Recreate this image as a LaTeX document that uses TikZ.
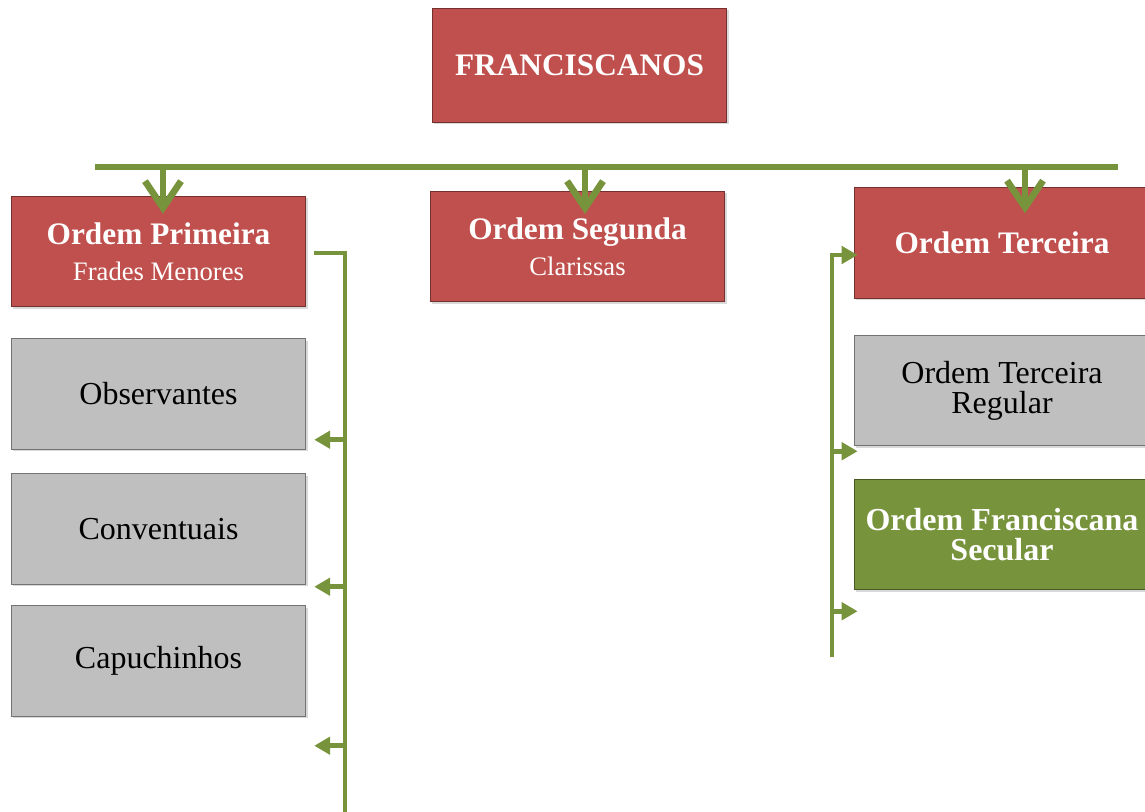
\documentclass[tikz,border=0pt]{standalone}
\usepackage{fontspec}
\setmainfont{Liberation Serif}
\usetikzlibrary{%
  calc,
  positioning,
  shadows,
  arrows.meta,
}
\definecolor{boxred}{HTML}{C0504D}
\definecolor{boxgray}{HTML}{BFBFBF}
\definecolor{boxgreen}{HTML}{77933C}
\definecolor{linegreen}{HTML}{77933C}

\begin{document}
\begin{tikzpicture}[x=0.75pt, y=-0.75pt,
    box/.style={draw=#1!60!black, fill=#1, line width=0.6pt,
      minimum width=221pt, minimum height=83pt,
      inner sep=0pt, align=center,
      drop shadow={shadow xshift=1.5pt, shadow yshift=-1.5pt, opacity=0.3}},
    redbox/.style={box=boxred, text=white,
      font=\fontsize{23.5}{27}\selectfont\bfseries},
    graybox/.style={box=boxgray, text=black,
      font=\fontsize{24}{22.5}\selectfont},
    greenbox/.style={box=boxgreen, text=white,
      font=\fontsize{24}{22.5}\selectfont\bfseries},
    bar/.style={linegreen, line width=5pt},
    down/.style={bar, -{Straight Barb[length=20pt, width=27pt]}},
    bracket/.style={linegreen, line width=3.5pt},
    side/.style={bracket, -{Triangle[length=12pt, width=13pt]}},
  ]
        \useasboundingbox (0,0) rectangle (1145,812);

        % boxes, pixel coordinates
        \node[redbox, minimum height=85.5pt] (fran) at (579.5,65) {FRANCISCANOS};

        \node[redbox] (prim) at (158.5,251.5)
          {Ordem Primeira\\{\fontsize{20}{24}\selectfont\mdseries Frades Menores}};
        \node[redbox] (seg) at (577.5,246.5)
          {Ordem Segunda\\{\fontsize{20}{24}\selectfont\mdseries Clarissas}};
        \node[redbox, minimum width=222pt] (terc) at (1002,243) {Ordem Terceira};

        \node[graybox] (obs) at (158.5,394) {Observantes};
        \node[graybox] (conv) at (158.5,529) {Conventuais};
        \node[graybox] (capu) at (158.5,661) {Capuchinhos};

        \node[graybox, minimum width=222pt] (reg) at (1002,390.5)
          {Ordem Terceira\\Regular};
        \node[greenbox, minimum width=222pt] (sec) at (1002,534.5)
          {Ordem Franciscana\\Secular};

        % top bar
        \coordinate (barL) at (95,167);
        \coordinate (barR) at (1118,167);
        \draw[bar] (barL) -- (barR);

        \draw[down] ($(prim.north)+(4.5,-29)$) -- ($(prim.north)+(4.5,18)$);
        \draw[down] ($(seg.north)+(7.5,-24)$) -- ($(seg.north)+(7.5,23)$);
        \draw[down] ($(terc.north)+(23,-21)$) -- ($(terc.north)+(23,26)$);

        % left bracket
        \coordinate (lb) at (345,812);
        \draw[bracket] ($(prim.east)+(8,1.5)$) -| (lb);
        \coordinate (o1) at ($(obs.south east)+(8,-10)$);
        \coordinate (o2) at ($(conv.south east)+(8,2)$);
        \coordinate (o3) at ($(capu.south east)+(8,29)$);
        \draw[side] (o1 -| lb) -- (o1);
        \draw[side] (o2 -| lb) -- (o2);
        \draw[side] (o3 -| lb) -- (o3);

        % right bracket
        \coordinate (rb) at (832,657);
        \coordinate (t1) at ($(terc.west)+(4,12)$);
        \coordinate (t2) at ($(reg.south west)+(4,5)$);
        \coordinate (t3) at ($(sec.south west)+(4,21)$);
        \draw[side] (rb) |- (t1);
        \draw[side] (t2 -| rb) -- (t2);
        \draw[side] (t3 -| rb) -- (t3);
      \end{tikzpicture}
\end{document}
